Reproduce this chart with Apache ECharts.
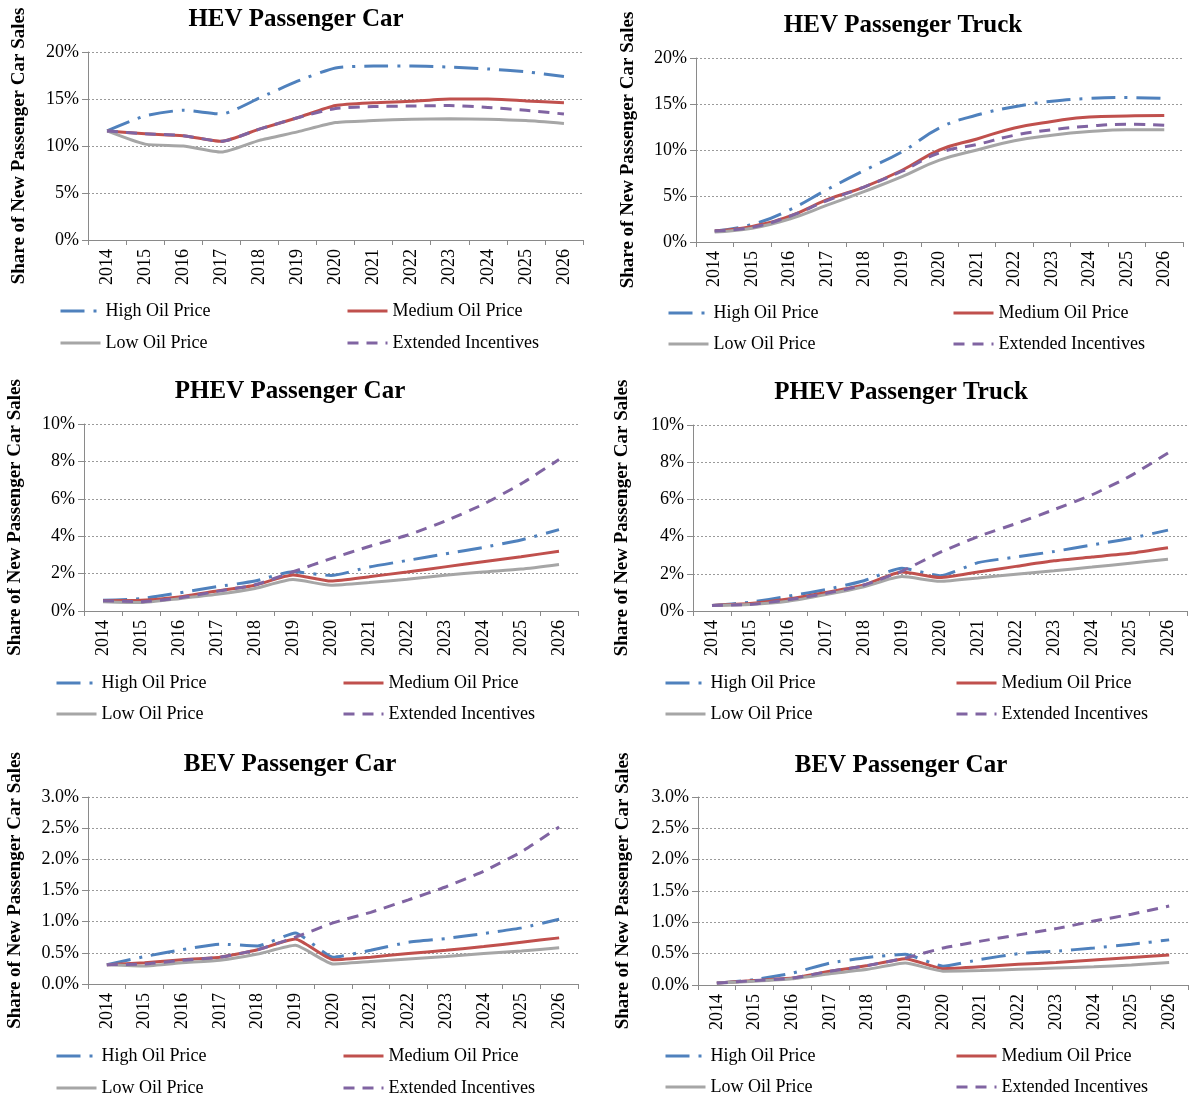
<!DOCTYPE html>
<html>
<head>
<meta charset="utf-8">
<script src="https://cdn.jsdelivr.net/npm/echarts@6/dist/echarts.min.js"></script>
<style>
html,body{margin:0;padding:0;background:#fff;}
#chart{width:1192px;height:1097px;}
</style>
</head>
<body>
<div id="chart"></div>
<script>
// ---------- DATA ----------
const years = ['2014','2015','2016','2017','2018','2019','2020','2021','2022','2023','2024','2025','2026'];
const seriesNames = ['High Oil Price','Medium Oil Price','Low Oil Price','Extended Incentives'];
const panelTitles = ['HEV Passenger Car','HEV Passenger Truck','PHEV Passenger Car','PHEV Passenger Truck','BEV Passenger Car','BEV Passenger Car'];
const yAxisName = 'Share of New Passenger Car Sales';

// HEV Passenger Car (% share)
const hevCarHigh     = [11.6,13.2,13.8,13.4,15.1,16.9,18.3,18.5,18.5,18.4,18.2,17.9,17.4];
const hevCarMedium   = [11.6,11.3,11.1,10.5,11.8,13.0,14.3,14.6,14.75,15.0,15.0,14.8,14.6];
const hevCarLow      = [11.6,10.2,10.0,9.35,10.6,11.5,12.5,12.7,12.85,12.9,12.85,12.7,12.4];
const hevCarExtended = [11.6,11.3,11.1,10.5,11.8,13.0,14.0,14.2,14.25,14.3,14.1,13.8,13.4];

// HEV Passenger Truck
const hevTruckHigh     = [1.2,1.9,3.5,5.7,7.8,9.8,12.4,13.8,14.7,15.3,15.6,15.7,15.6];
const hevTruckMedium   = [1.2,1.7,2.8,4.6,6.0,7.8,10.0,11.2,12.4,13.1,13.6,13.7,13.75];
const hevTruckLow      = [1.1,1.5,2.5,4.0,5.5,7.1,8.9,10.0,11.0,11.6,12.0,12.2,12.2];
const hevTruckExtended = [1.2,1.6,2.8,4.5,6.0,7.7,9.7,10.6,11.6,12.2,12.6,12.8,12.7];

// PHEV Passenger Car
const phevCarHigh     = [0.57,0.66,0.97,1.3,1.6,2.1,1.9,2.35,2.7,3.05,3.4,3.8,4.35];
const phevCarMedium   = [0.55,0.57,0.75,1.07,1.38,1.93,1.6,1.83,2.09,2.36,2.63,2.9,3.2];
const phevCarLow      = [0.5,0.45,0.66,0.89,1.2,1.68,1.38,1.52,1.7,1.91,2.09,2.24,2.49];
const phevCarExtended = [0.55,0.5,0.7,1.05,1.4,2.1,2.8,3.45,4.05,4.8,5.7,6.8,8.1];

// PHEV Passenger Truck
const phevTruckHigh     = [0.3,0.47,0.79,1.15,1.63,2.3,1.9,2.6,2.9,3.2,3.55,3.9,4.35];
const phevTruckMedium   = [0.3,0.4,0.65,1.0,1.4,2.1,1.8,2.1,2.4,2.7,2.9,3.1,3.4];
const phevTruckLow      = [0.3,0.35,0.52,0.88,1.3,1.85,1.6,1.78,1.98,2.16,2.36,2.57,2.78];
const phevTruckExtended = [0.3,0.35,0.6,0.95,1.4,2.15,3.15,4.0,4.7,5.45,6.25,7.25,8.5];

// BEV Passenger Car (left)
const bevCarHigh     = [0.31,0.44,0.55,0.64,0.61,0.82,0.43,0.54,0.67,0.73,0.81,0.9,1.04];
const bevCarMedium   = [0.31,0.34,0.39,0.43,0.55,0.72,0.39,0.43,0.49,0.54,0.6,0.67,0.74];
const bevCarLow      = [0.31,0.29,0.34,0.38,0.48,0.62,0.32,0.36,0.4,0.44,0.49,0.53,0.58];
const bevCarExtended = [0.31,0.32,0.38,0.43,0.55,0.75,0.98,1.15,1.35,1.56,1.81,2.12,2.52];

// BEV Passenger Car (right)
const bevCar2High     = [0.03,0.085,0.19,0.35,0.44,0.49,0.3,0.41,0.5,0.54,0.59,0.65,0.72];
const bevCar2Medium   = [0.03,0.07,0.11,0.22,0.31,0.42,0.26,0.29,0.33,0.36,0.4,0.44,0.48];
const bevCar2Low      = [0.03,0.06,0.1,0.18,0.25,0.35,0.22,0.23,0.25,0.27,0.29,0.32,0.36];
const bevCar2Extended = [0.03,0.07,0.11,0.22,0.31,0.43,0.59,0.7,0.8,0.9,1.02,1.13,1.26];

const yMax = [20,20,10,10,3,3];
const yStep = [5,5,2,2,0.5,0.5];

// ---------- LAYOUT ----------
const panelData = [
  [hevCarHigh,hevCarMedium,hevCarLow,hevCarExtended],
  [hevTruckHigh,hevTruckMedium,hevTruckLow,hevTruckExtended],
  [phevCarHigh,phevCarMedium,phevCarLow,phevCarExtended],
  [phevTruckHigh,phevTruckMedium,phevTruckLow,phevTruckExtended],
  [bevCarHigh,bevCarMedium,bevCarLow,bevCarExtended],
  [bevCar2High,bevCar2Medium,bevCar2Low,bevCar2Extended]
];
const layout = [
  {left:88, top:52, width:495, height:188, titleX:296, titleY:18, nameX:19, legX:[104,391], legY:[310,342], smooth:0.2, dec:0},
  {left:696, top:58, width:487, height:184, titleX:903, titleY:24, nameX:628, legX:[712,997], legY:[312,343], smooth:0.45, dec:0},
  {left:84, top:424, width:494, height:187, titleX:290, titleY:390, nameX:15, legX:[100,387], legY:[682,713], smooth:0.2, dec:0},
  {left:693, top:425, width:494, height:186, titleX:901, titleY:391, nameX:622, legX:[709,1000], legY:[682,713], smooth:0.2, dec:0},
  {left:88, top:797, width:490, height:187, titleX:290, titleY:763, nameX:15, legX:[100,387], legY:[1055,1087], smooth:0.15, dec:1},
  {left:698, top:797, width:490, height:188, titleX:901, titleY:764, nameX:623, legX:[709,1000], legY:[1055,1086], smooth:0.15, dec:1}
];
const styles = [
  {color:'#4F81BD', type:[24,9,3,9]},
  {color:'#C0504D', type:'solid'},
  {color:'#A6A6A6', type:'solid'},
  {color:'#8064A2', type:[11,8]}
];
const FONT = '"Liberation Serif", "Times New Roman", serif';

const grids=[], xAxes=[], yAxes=[], series=[], titles=[], legends=[];
layout.forEach((L,i)=>{
  grids.push({left:L.left, top:L.top, width:L.width, height:L.height, containLabel:false});
  xAxes.push({
    type:'category', gridIndex:i, data:years, boundaryGap:true,
    axisLine:{lineStyle:{color:'#8a8a8a', width:1}},
    axisTick:{show:true, length:5, lineStyle:{color:'#8a8a8a'}},
    axisLabel:{rotate:90, margin:9, color:'#000', fontSize:18, fontFamily:FONT},
    splitLine:{show:false}
  });
  yAxes.push({
    type:'value', gridIndex:i, min:0, max:yMax[i], interval:yStep[i],
    name:yAxisName, nameLocation:'middle', nameGap:L.left - L.nameX - 10,
    nameTextStyle:{fontFamily:FONT, fontWeight:'bold', fontSize:19, color:'#000'},
    axisLine:{show:true, lineStyle:{color:'#8a8a8a', width:1}},
    axisTick:{show:true, length:6, lineStyle:{color:'#8a8a8a'}},
    axisLabel:{margin:9, color:'#000', fontSize:18, fontFamily:FONT,
      formatter:(v)=> (L.dec ? v.toFixed(1) : String(Math.round(v))) + '%'},
    splitLine:{show:true, lineStyle:{color:'#9a9a9a', width:1, type:[2,2]}}
  });
  titles.push({
    text:panelTitles[i], left:L.titleX, top:L.titleY-11, textAlign:'center', padding:0,
    textStyle:{fontFamily:FONT, fontWeight:'bold', fontSize:25, color:'#000'}
  });
  panelData[i].forEach((arr,s)=>{
    series.push({
      type:'line', name:seriesNames[s], xAxisIndex:i, yAxisIndex:i, data:arr,
      symbol:'none', smooth:L.smooth, z:2+s,
      lineStyle:{color:styles[s].color, width:3, type:styles[s].type, cap:'butt'},
      itemStyle:{color:styles[s].color}
    });
  });
  // legend items in 2x2 layout
  const pos = [[0,0],[1,0],[0,1],[1,1]];
  seriesNames.forEach((nm,s)=>{
    const c = pos[s][0], r = pos[s][1];
    legends.push({
      data:[nm], left:L.legX[c]-45, top:L.legY[r]-8, padding:0,
      itemWidth:40, itemHeight:16, itemGap:0, selectedMode:false,
      itemStyle:{color:'rgba(0,0,0,0)', opacity:0, borderWidth:0},
      lineStyle:{color:styles[s].color, width:3, type:styles[s].type, opacity:1},
      textStyle:{fontFamily:FONT, fontSize:18, color:'#000'}
    });
  });
});

const chart = echarts.init(document.getElementById('chart'), null, {renderer:'canvas'});
chart.setOption({
  backgroundColor:'#fff',
  animation:false,
  title:titles,
  legend:legends,
  grid:grids,
  xAxis:xAxes,
  yAxis:yAxes,
  series:series
});
</script>
</body>
</html>
